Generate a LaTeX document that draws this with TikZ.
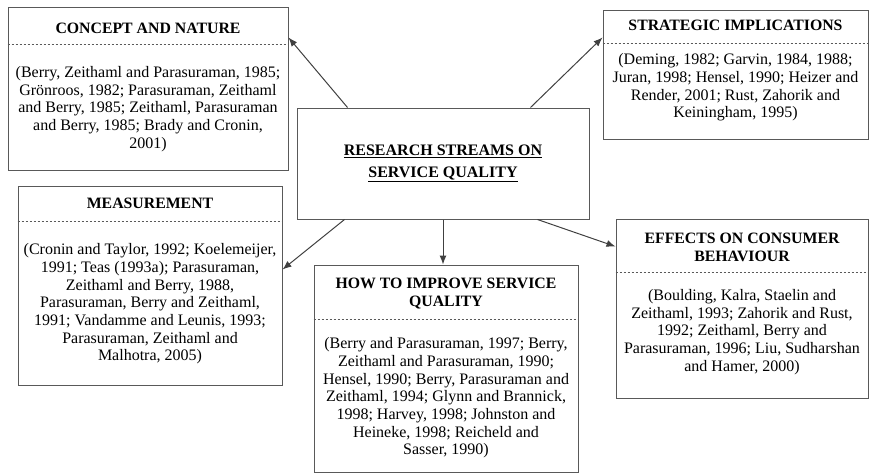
\documentclass[tikz,border=0pt]{standalone}
\usepackage{fontspec}
\setmainfont{Liberation Serif}
\usetikzlibrary{arrows.meta}

\begin{document}
\begin{tikzpicture}[x=1pt,y=-1pt,>=Latex,
  box/.style={draw=black!65,line width=1pt,inner sep=0pt},
  head/.style={align=center,inner sep=0pt,font=\bfseries\fontsize{15.8}{18}\selectfont},
  body/.style={align=center,inner sep=0pt,font=\fontsize{16}{17.7}\selectfont},
  sep/.style={draw=black!65,line width=0.8pt,dash pattern=on 2.5pt off 1.5pt},
  link/.style={draw=black!75,line width=1pt,-{Latex[length=9pt,width=7pt]}}]
\useasboundingbox (0,0) rectangle (869,474);

% centre
\node[box,minimum width=292pt,minimum height=111pt,align=center,font=\bfseries\fontsize{16}{22}\selectfont] (central) at (443,163.5) {\underline{RESEARCH STREAMS ON}\\\underline{SERVICE QUALITY}};

% concept and nature
\node[box,minimum width=280pt,minimum height=163pt] (concept) at (148,88.5) {};
\node[head] (concept_t) at (148,28) {CONCEPT AND NATURE};
\draw[sep] (concept.west |- 0,44) -- (concept.east |- 0,44);
\node[body] (concept_b) at (148,109) {(Berry, Zeithaml and Parasuraman, 1985;\\Grönroos, 1982; Parasuraman, Zeithaml\\and Berry, 1985; Zeithaml, Parasuraman\\and Berry, 1985; Brady and Cronin,\\2001)};

% strategic implications
\node[box,minimum width=265pt,minimum height=129pt] (strat) at (735.5,74.5) {};
\node[head] (strat_t) at (735.5,25) {STRATEGIC IMPLICATIONS};
\draw[sep] (strat.west |- 0,43) -- (strat.east |- 0,43);
\node[body] (strat_b) at (735.5,87.5) {(Deming, 1982; Garvin, 1984, 1988;\\Juran, 1998; Hensel, 1990; Heizer and\\Render, 2001; Rust, Zahorik and\\Keiningham, 1995)};

% measurement
\node[box,minimum width=264pt,minimum height=199pt] (meas) at (150,285.5) {};
\node[head] (meas_t) at (150,203) {MEASUREMENT};
\draw[sep] (meas.west |- 0,221) -- (meas.east |- 0,221);
\node[body] (meas_b) at (150,304) {(Cronin and Taylor, 1992; Koelemeijer,\\1991; Teas (1993a); Parasuraman,\\Zeithaml and Berry, 1988,\\Parasuraman, Berry and Zeithaml,\\1991; Vandamme and Leunis, 1993;\\Parasuraman, Zeithaml and\\Malhotra, 2005)};

% how to improve
\node[box,minimum width=264pt,minimum height=207pt] (improve) at (446,368.5) {};
\node[head] (improve_t) at (446,294) {HOW TO IMPROVE SERVICE\\QUALITY};
\draw[sep] (improve.west |- 0,319) -- (improve.east |- 0,319);
\node[body] (improve_b) at (446,398) {(Berry and Parasuraman, 1997; Berry,\\Zeithaml and Parasuraman, 1990;\\Hensel, 1990; Berry, Parasuraman and\\Zeithaml, 1994; Glynn and Brannick,\\1998; Harvey, 1998; Johnston and\\Heineke, 1998; Reicheld and\\Sasser, 1990)};

% effects on consumer behaviour
\node[box,minimum width=252pt,minimum height=179pt] (effects) at (742,308.5) {};
\node[head] (effects_t) at (742,247) {EFFECTS ON CONSUMER\\BEHAVIOUR};
\draw[sep] (effects.west |- 0,272) -- (effects.east |- 0,272);
\node[body] (effects_b) at (742,332) {(Boulding, Kalra, Staelin and\\Zeithaml, 1993; Zahorik and Rust,\\1992; Zeithaml, Berry and\\Parasuraman, 1996; Liu, Sudharshan\\and Hamer, 2000)};

% arrows
\draw[link] ([xshift=51pt]central.north west) -- ([yshift=-31pt]concept.north east);
\draw[link] ([xshift=-59pt]central.north east) -- ([yshift=-28pt]strat.north west);
\draw[link] ([xshift=48pt]central.south west) -- ([yshift=-84pt]meas.north east);
\draw[link] (central.south) -- (central.south |- improve.north);
\draw[link] ([xshift=-52pt]central.south east) -- ([yshift=-28pt]effects.north west);
\end{tikzpicture}
\end{document}
